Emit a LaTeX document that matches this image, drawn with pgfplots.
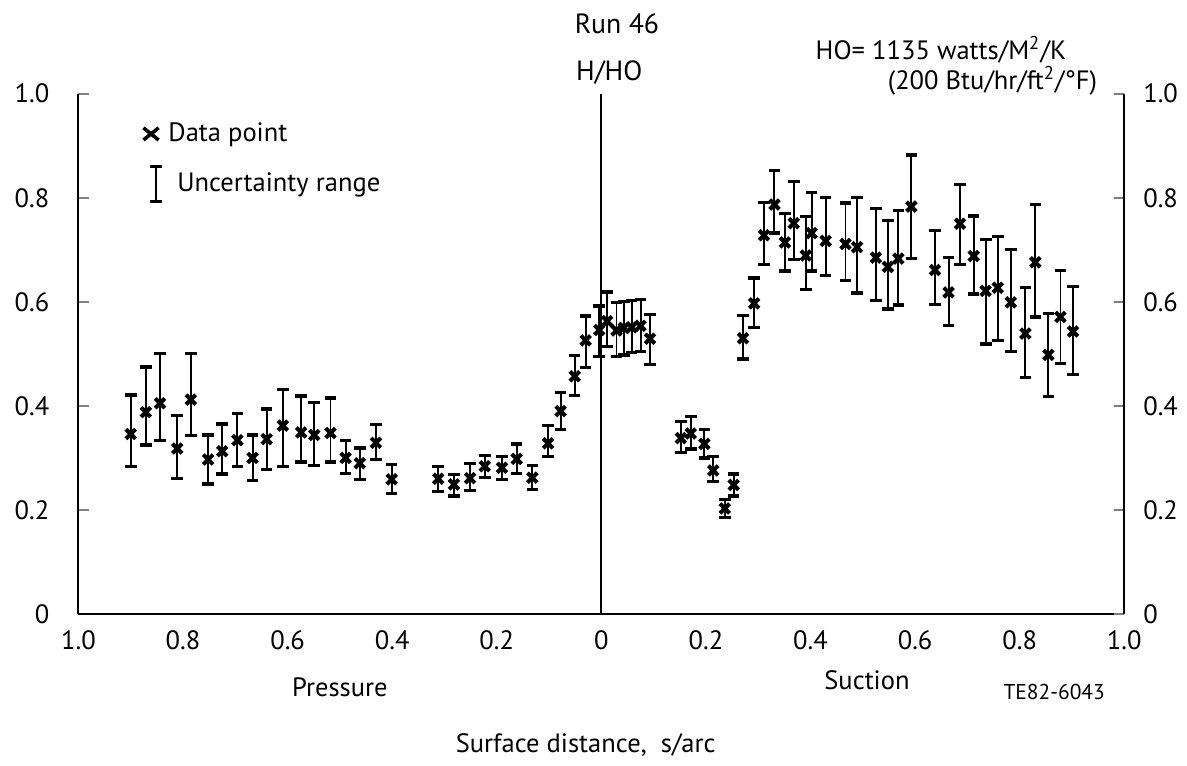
\documentclass[border=0pt]{standalone}
\usepackage{pgfplots}
\usepackage{pgfplotstable}
\pgfplotsset{compat=1.18}
\usepackage{fontspec}
\setmainfont{PT Sans}

\pgfplotstableread{
x v t b
-0.900 0.346 0.421 0.284
-0.871 0.388 0.475 0.325
-0.844 0.405 0.500 0.333
-0.811 0.318 0.381 0.261
-0.785 0.412 0.501 0.343
-0.752 0.297 0.344 0.250
-0.725 0.313 0.365 0.269
-0.696 0.334 0.386 0.284
-0.667 0.300 0.344 0.257
-0.640 0.336 0.394 0.278
-0.609 0.362 0.431 0.284
-0.574 0.349 0.419 0.292
-0.549 0.344 0.407 0.286
-0.518 0.348 0.415 0.292
-0.489 0.300 0.333 0.270
-0.462 0.290 0.319 0.259
-0.431 0.329 0.364 0.297
-0.401 0.259 0.288 0.232
-0.312 0.260 0.283 0.236
-0.282 0.249 0.268 0.227
-0.251 0.261 0.289 0.237
-0.223 0.284 0.305 0.263
-0.190 0.281 0.303 0.259
-0.162 0.298 0.327 0.270
-0.132 0.262 0.286 0.240
-0.102 0.328 0.362 0.303
-0.078 0.390 0.426 0.355
-0.051 0.457 0.497 0.420
-0.030 0.526 0.573 0.474
-0.004 0.546 0.592 0.495
0.011 0.563 0.619 0.514
0.029 0.545 0.598 0.495
0.043 0.550 0.601 0.498
0.058 0.551 0.603 0.502
0.075 0.554 0.605 0.504
0.093 0.529 0.575 0.480
0.152 0.338 0.370 0.311
0.171 0.347 0.380 0.317
0.197 0.327 0.355 0.300
0.214 0.276 0.303 0.255
0.236 0.203 0.220 0.186
0.253 0.248 0.269 0.227
0.271 0.530 0.574 0.490
0.292 0.597 0.646 0.551
0.311 0.728 0.791 0.672
0.331 0.787 0.853 0.732
0.351 0.714 0.770 0.659
0.368 0.751 0.831 0.681
0.391 0.689 0.764 0.623
0.402 0.732 0.810 0.659
0.429 0.717 0.801 0.650
0.467 0.711 0.790 0.641
0.489 0.705 0.800 0.617
0.525 0.685 0.780 0.603
0.548 0.667 0.756 0.586
0.568 0.683 0.775 0.594
0.593 0.783 0.882 0.683
0.638 0.661 0.737 0.595
0.664 0.618 0.685 0.554
0.686 0.750 0.826 0.672
0.712 0.688 0.765 0.615
0.735 0.621 0.720 0.519
0.758 0.627 0.725 0.526
0.783 0.599 0.700 0.504
0.811 0.539 0.627 0.454
0.830 0.676 0.787 0.571
0.855 0.498 0.578 0.418
0.878 0.571 0.660 0.482
0.902 0.543 0.630 0.460
}\datatab

\begin{document}
\begin{tikzpicture}
\begin{axis}[
  width=414pt, height=206pt, scale only axis,
  xmin=-1, xmax=1, ymin=0, ymax=1,
  axis x line*=bottom, axis y line*=left,
  axis line style={line width=0.8pt, -},
  xtick={-1,-0.8,-0.6,-0.4,-0.2,0,0.2,0.4,0.6,0.8,1},
  xticklabels={1.0,0.8,0.6,0.4,0.2,0,0.2,0.4,0.6,0.8,1.0},
  ytick={0,0.2,0.4,0.6,0.8,1},
  yticklabels={0,0.2,0.4,0.6,0.8,1.0},
  xtick style={draw=none},
  ytick style={line width=0.8pt},
  tick align=inside, major tick length=4pt,
  ticklabel style={font=\fontsize{10.5}{12}\selectfont},
  yticklabel style={xshift=-8pt},
  xticklabel style={yshift=-3pt},
  clip=false,
  legend cell align=left,
  legend style={draw=none, fill=none, at={(rel axis cs:0.06,0.955)}, anchor=north west,
    font=\fontsize{10.5}{12}\selectfont, row sep=6pt, inner sep=0pt,
    /tikz/every even column/.append style={column sep=1pt}},
]
\addlegendimage{legend image code/.code={
  \draw[line width=1.4pt] (0.8pt,-2.4pt)--(6.8pt,2.4pt) (0.8pt,2.4pt)--(6.8pt,-2.4pt);}}
\addlegendentry{Data point}
\addlegendimage{legend image code/.code={
  \draw[line width=0.8pt] (5.8pt,-6.8pt)--(5.8pt,6.8pt);
  \draw[line width=1.2pt] (3.5pt,-6.8pt)--(8.1pt,-6.8pt) (3.5pt,6.8pt)--(8.1pt,6.8pt);}}
\addlegendentry{\,\,Uncertainty range}

\addplot[black, only marks, mark=x, mark size=2.7pt, mark options={line width=1.6pt},
  error bars/.cd, y dir=both, y explicit,
  error bar style={line width=0.75pt, black},
  error mark options={rotate=90, mark size=2.3pt, line width=1.3pt, black}]
  table[x=x, y=v, y error plus expr=\thisrow{t}-\thisrow{v},
        y error minus expr=\thisrow{v}-\thisrow{b}] {\datatab};

\draw[line width=0.8pt] (axis cs:0,0) -- (axis cs:0,1);

\node[font=\fontsize{11}{13}\selectfont] at (axis cs:0.03,1.134) {Run 46};
\node[font=\fontsize{11}{13}\selectfont] at (axis cs:0.015,1.04) {H/HO};
\node[anchor=east, font=\fontsize{10.5}{12}\selectfont] at (axis cs:0.906,1.085) {HO= 1135 watts/M\textsuperscript{2}/K};
\node[anchor=east, font=\fontsize{10.5}{12}\selectfont] at (axis cs:0.965,1.025) {(200 Btu/hr/ft\textsuperscript{2}/°F)};

\node[font=\fontsize{10.5}{12}\selectfont] at ([yshift=-29pt]axis cs:-0.5,0) {Pressure};
\node[font=\fontsize{10.5}{12}\selectfont] at ([yshift=-26pt]axis cs:0.508,0) {Suction};
\node[font=\fontsize{8.5}{10}\selectfont] at ([yshift=-31pt]axis cs:0.866,0) {TE82-6043};
\node[font=\fontsize{10.5}{12}\selectfont] at ([yshift=-52pt]axis cs:-0.03,0) {Surface distance,\ \ s/arc};

\path (rel axis cs:-0.075,-0.285) rectangle (rel axis cs:1.06,1.18);
\end{axis}

\begin{axis}[
  width=414pt, height=206pt, scale only axis,
  xmin=-1, xmax=1, ymin=0, ymax=1,
  axis x line=none, axis y line*=right,
  axis line style={line width=0.8pt, -},
  ytick={0,0.2,0.4,0.6,0.8,1},
  yticklabels={0,0.2,0.4,0.6,0.8,1.0},
  ytick style={line width=0.8pt},
  tick align=inside, major tick length=4pt,
  ticklabel style={font=\fontsize{10.5}{12}\selectfont},
  yticklabel style={xshift=4pt},
]
\end{axis}
\end{tikzpicture}
\end{document}
